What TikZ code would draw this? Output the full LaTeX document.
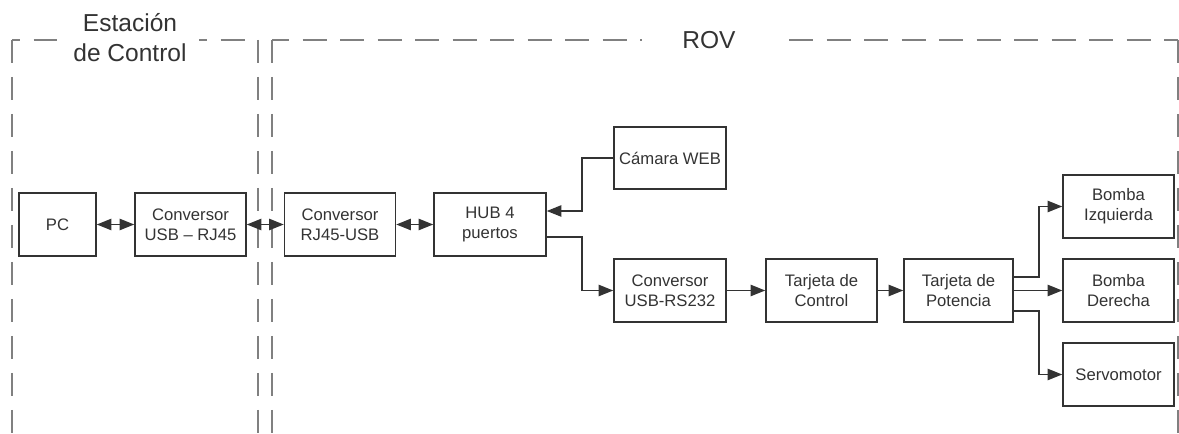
\documentclass[tikz,border=0pt]{standalone}
\usepackage{fontspec}
\setmainfont{Liberation Sans}
\usetikzlibrary{arrows.meta}
\definecolor{inkc}{HTML}{333333}
\definecolor{framec}{HTML}{808080}
\tikzset{
  blk/.style={draw=inkc, line width=1.1pt, text=inkc, align=center, inner sep=0pt,
    font=\fontsize{12.5}{15}\selectfont, minimum height=47.25pt},
  wd/.style={minimum width=#1*0.75pt},
  link/.style={draw=inkc, line width=1.1pt, -{Triangle[length=11pt,width=8.5pt]}},
  both/.style={draw=inkc, line width=1.1pt, {Triangle[length=11pt,width=8.5pt]}-{Triangle[length=11pt,width=8.5pt]}},
  frameh/.style={draw=framec, line width=1.6pt, dash pattern=on 18pt off 10.125pt},
  framev/.style={draw=framec, line width=1.6pt, dash pattern=on 17.25pt off 10.5pt},
  ttl/.style={text=inkc, font=\fontsize{18.4}{22.5}\selectfont, align=center, inner sep=0pt},
}
\begin{document}
\begin{tikzpicture}[x=0.75pt,y=-0.75pt]
\useasboundingbox (0,0) rectangle (1179,434);

% --- dashed frames ---
% control station
\draw[framev] (12,40) -- (12,434);
\draw[framev] (258,40) -- (258,434);
\draw[frameh, dash phase=12pt] (12,40) -- (57,40);
\draw[frameh, dash phase=12pt] (199,40) -- (256,40);
% ROV
\draw[framev] (272,40) -- (272,434);
\draw[framev] (1178,40) -- (1178,434);
\draw[frameh, dash phase=5.25pt] (272,40) -- (642,40);
\draw[frameh] (789,40) -- (1178,40);

% --- titles ---
\node[ttl] (tst) at (130,38) {Estación\\de Control};
\node[ttl] (trov) at (709,40) {ROV};

% --- blocks ---
\node[blk, wd=77]  (pc)  at (57.5,224.5)  {PC};
\node[blk, wd=111] (c1)  at (190.5,224.5) {Conversor\\USB – RJ45};
\node[blk, wd=111] (c2)  at (340,224.5)   {Conversor\\RJ45-USB};
\node[blk, wd=112] (hub) at (490,224.5)   {HUB 4\\puertos};
\node[blk, wd=112, minimum height=46.5pt] (cam) at (670,158) {Cámara WEB};
\node[blk, wd=112] (rs)  at (670,290.5)   {Conversor\\USB-RS232};
\node[blk, wd=111] (tc)  at (821.5,290.5) {Tarjeta de\\Control};
\node[blk, wd=109] (tp)  at (958.5,290.5) {Tarjeta de\\Potencia};
\node[blk, wd=111] (bi)  at (1118.5,206.5) {Bomba\\Izquierda};
\node[blk, wd=111] (bd)  at (1118.5,290.5) {Bomba\\Derecha};
\node[blk, wd=111] (sv)  at (1118.5,374.5) {Servomotor};

% --- bends ---
\coordinate (j1) at (582,211);
\coordinate (j2) at (582,237);
\coordinate (j3) at (1039,277);
\coordinate (j4) at (1039,311);

% --- connectors ---
\draw[both] (pc) -- (c1);
\draw[both] (c1) -- (c2);
\draw[both] (c2) -- (hub);
\draw[link] (cam.west) -| (j1) -- (hub.east |- j1);
\draw[link] (hub.east |- j2) -- (j2) |- (rs.west);
\draw[link] (rs) -- (tc);
\draw[link] (tc) -- (tp);
\draw[link] (tp.east |- j3) -- (j3) |- (bi.west);
\draw[link] (tp) -- (bd);
\draw[link] (tp.east |- j4) -- (j4) |- (sv.west);
\end{tikzpicture}
\end{document}
